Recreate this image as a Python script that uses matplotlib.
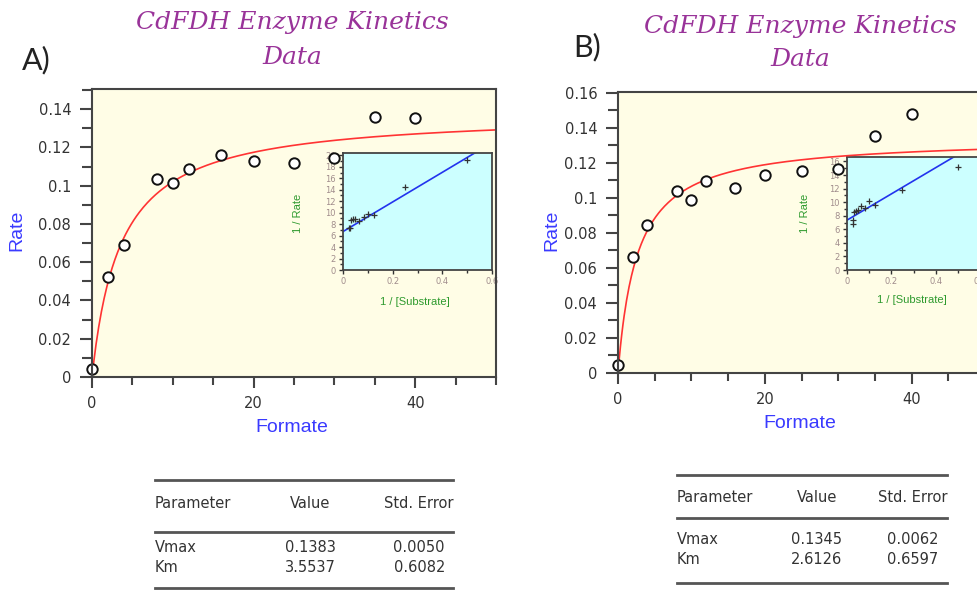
import numpy as np
import matplotlib
matplotlib.use('Agg')
import matplotlib.pyplot as plt
from matplotlib.ticker import MultipleLocator, FuncFormatter
from matplotlib.patches import Rectangle
from matplotlib.lines import Line2D

# data
formate = [0, 2, 4, 8, 10, 12, 16, 20, 25, 30, 35, 40]
rate_a = [0.004, 0.052, 0.069, 0.1035, 0.1016, 0.1087, 0.116, 0.1131, 0.1119, 0.1143, 0.1361, 0.1353]
rate_b = [0.0044, 0.0661, 0.0848, 0.1038, 0.099, 0.1095, 0.1055, 0.1133, 0.1156, 0.1168, 0.1352, 0.1482]

# fitted parameters (from the tables)
params = ['Vmax', 'Km']
value_a = [0.1383, 3.5537]
error_a = [0.0050, 0.6082]
value_b = [0.1345, 2.6126]
error_b = [0.0062, 0.6597]

# Lineweaver-Burk fit lines (x, 1/rate)
lb_x = [0, 0.6]
lb_a = [6.7, 22.2]
lb_b = [7.35, 18.95]

W, H = 977, 590
fig = plt.figure(figsize=(W / 100, H / 100), dpi=100)

def box(x0, y0, x1, y1):
    # pixel box -> figure fraction rect
    return [x0 / W, 1 - y1 / H, (x1 - x0) / W, (y1 - y0) / H]

def fmt(v, pos):
    return '{:g}'.format(round(v, 4))

def panel(rect, inset_rect, rate, vmax, km, ylim, ytop_inset, lb_y, ystep_inset):
    # yellow background behind everything of this panel
    bg = Rectangle((rect[0], rect[1]), rect[2], rect[3], transform=fig.transFigure,
                   facecolor='#fffde6', edgecolor='none', zorder=-1)
    fig.add_artist(bg)

    ins = fig.add_axes(inset_rect, zorder=1)
    ins.set_facecolor('#ccffff')
    rs = [1 / f for f in formate if f > 0]
    rr = [1 / r for f, r in zip(formate, rate) if f > 0]
    ins.plot(lb_x, lb_y, color='#2233ee', lw=1.2)
    ins.plot(rs, rr, ls='none', marker='+', ms=4, mew=0.9, color='#333333')
    ins.set_xlim(0, 0.6)
    ins.set_ylim(0, ytop_inset)
    ins.xaxis.set_major_locator(MultipleLocator(0.2))
    ins.xaxis.set_minor_locator(MultipleLocator(0.1))
    ins.yaxis.set_major_locator(MultipleLocator(ystep_inset))
    ins.yaxis.set_minor_locator(MultipleLocator(1))
    ins.xaxis.set_major_formatter(FuncFormatter(fmt))
    ins.tick_params(which='both', direction='out', labelsize=6, labelcolor='#a08c8c',
                    color='#333333', width=1, pad=2)
    ins.tick_params(which='major', length=3)
    ins.tick_params(which='minor', length=2)
    for s in ins.spines.values():
        s.set_color('#444444')
        s.set_linewidth(1.3)

    ax = fig.add_axes(rect, zorder=2)
    ax.patch.set_visible(False)
    xs = np.linspace(0, 50, 300)
    ax.plot(xs, vmax * xs / (km + xs), color='#ff3333', lw=1.2)
    ax.plot(formate, rate, ls='none', marker='o', ms=7.5, mfc='white', mec='#111111',
            mew=1.4, clip_on=False)
    ax.set_xlim(0, 50)
    ax.set_ylim(*ylim)
    ax.xaxis.set_major_locator(MultipleLocator(20))
    ax.xaxis.set_minor_locator(MultipleLocator(5))
    ax.yaxis.set_major_locator(MultipleLocator(0.02))
    ax.yaxis.set_minor_locator(MultipleLocator(0.01))
    ax.yaxis.set_major_formatter(FuncFormatter(fmt))
    ax.tick_params(which='both', direction='out', labelsize=10.5, labelcolor='#333333',
                   color='#444444', width=1.5, pad=6)
    ax.tick_params(axis='y', which='major', length=9)
    ax.tick_params(axis='y', which='minor', length=7)
    ax.tick_params(axis='x', which='major', length=8)
    ax.tick_params(axis='x', which='minor', length=6)
    for s in ax.spines.values():
        s.set_color('#444444')
        s.set_linewidth(1.5)
    return ax, ins

title_kw = dict(ha='center', va='center', color='#993399', fontsize=18,
                family='DejaVu Serif', style='italic')
lab_kw = dict(ha='center', va='center', color='#3a3aff', fontsize=14, family='Liberation Sans')
ins_kw = dict(ha='center', va='center', color='#2e9a2e', fontsize=8, family='Liberation Sans')

# panel A
panel(box(92, 89, 496, 377), box(343, 153, 492, 270), rate_a, value_a[0], value_a[1],
      (0, 0.1505), 20.4, lb_a, 2)
fig.text(292 / W, 1 - 22 / H, 'CdFDH Enzyme Kinetics', **title_kw)
fig.text(292 / W, 1 - 57 / H, 'Data', **title_kw)
fig.text(22 / W, 1 - 60 / H, 'A)', ha='left', va='center', fontsize=22, family='Lato', color='#222222')
fig.text(17 / W, 1 - 230 / H, 'Rate', rotation=90, **lab_kw)
fig.text(292 / W, 1 - 428 / H, 'Formate', **lab_kw)
fig.text(298 / W, 1 - 213 / H, '1 / Rate', rotation=90, **ins_kw)
fig.text(415 / W, 1 - 302 / H, '1 / [Substrate]', **ins_kw)

# panel B (runs past the right edge of the picture)
panel(box(618, 92, 985, 373), box(847, 157, 980, 270), rate_b, value_b[0], value_b[1],
      (0, 0.1605), 16.66, lb_b, 2)
fig.text(800 / W, 1 - 26 / H, 'CdFDH Enzyme Kinetics', **title_kw)
fig.text(800 / W, 1 - 60 / H, 'Data', **title_kw)
fig.text(573 / W, 1 - 47 / H, 'B)', ha='left', va='center', fontsize=22, family='Lato', color='#222222')
fig.text(552 / W, 1 - 230 / H, 'Rate', rotation=90, **lab_kw)
fig.text(800 / W, 1 - 424 / H, 'Formate', **lab_kw)
fig.text(805 / W, 1 - 213 / H, '1 / Rate', rotation=90, **ins_kw)
fig.text(912 / W, 1 - 300 / H, '1 / [Substrate]', **ins_kw)

# parameter tables
def hline(x0, x1, y):
    fig.add_artist(Line2D([x0 / W, x1 / W], [1 - y / H, 1 - y / H], color='#555555', lw=2))

def table(x0, x1, ys, head_y, row_ys, val_x, err_x, values, errors):
    for y in ys:
        hline(x0, x1, y)
    kw = dict(va='center', fontsize=10.5, family='DejaVu Sans', color='#333333')
    fig.text(x0 / W, 1 - head_y / H, 'Parameter', ha='left', **kw)
    fig.text(val_x / W, 1 - head_y / H, 'Value', ha='center', **kw)
    fig.text(x1 / W, 1 - head_y / H, 'Std. Error', ha='right', **kw)
    for p, v, e, y in zip(params, values, errors, row_ys):
        fig.text(x0 / W, 1 - y / H, p, ha='left', **kw)
        fig.text(val_x / W, 1 - y / H, '{:.4f}'.format(v), ha='center', **kw)
        fig.text(err_x / W, 1 - y / H, '{:.4f}'.format(e), ha='right', **kw)

table(155, 453, [480, 532, 588], 503, [547, 567], 310, 445, value_a, error_a)
table(677, 947, [475, 518, 583], 497, [540, 560], 817, 938, value_b, error_b)

fig.savefig('out.png', dpi=100)
